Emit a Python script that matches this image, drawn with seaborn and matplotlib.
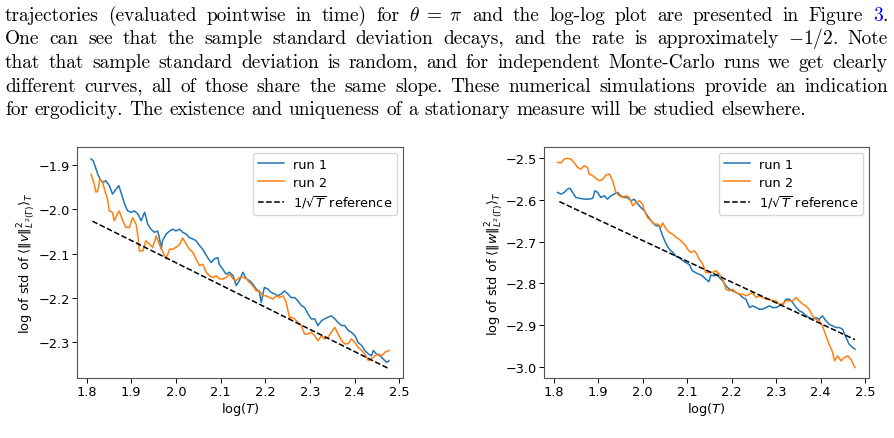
import numpy as np
import pandas as pd
import matplotlib
matplotlib.use("Agg")
import matplotlib.pyplot as plt
import matplotlib.transforms as mtransforms
import seaborn as sns

# ---------------- data ----------------
left_run1_x = [1.810, 1.815, 1.825, 1.830, 1.836, 1.843, 1.851, 1.858, 1.866, 1.872, 1.877, 1.885, 1.892, 1.900,
               1.907, 1.915, 1.922, 1.930, 1.937, 1.944, 1.952, 1.959, 1.963, 1.967, 1.970, 1.978, 1.986, 1.993,
               2.000, 2.008, 2.015, 2.023, 2.030, 2.038, 2.045, 2.053, 2.060, 2.064, 2.071, 2.079, 2.086, 2.094,
               2.097, 2.105, 2.112, 2.120, 2.128, 2.135, 2.142, 2.150, 2.158, 2.165, 2.172, 2.180, 2.187, 2.191,
               2.198, 2.206, 2.213, 2.221, 2.228, 2.236, 2.243, 2.251, 2.258, 2.266, 2.273, 2.281, 2.288, 2.296,
               2.303, 2.311, 2.318, 2.326, 2.333, 2.341, 2.348, 2.356, 2.363, 2.371, 2.378, 2.386, 2.393, 2.401,
               2.408, 2.416, 2.423, 2.431, 2.438, 2.442, 2.449, 2.457, 2.464, 2.472, 2.477]
left_run1_y = [-1.887, -1.891, -1.921, -1.932, -1.940, -1.936, -1.947, -1.966, -1.955, -1.947, -1.962, -1.988,
               -2.004, -2.007, -2.004, -2.011, -2.026, -2.007, -2.034, -2.045, -2.052, -2.049, -2.064, -2.090,
               -2.071, -2.056, -2.049, -2.045, -2.049, -2.045, -2.052, -2.056, -2.064, -2.067, -2.071, -2.082,
               -2.090, -2.097, -2.109, -2.120, -2.112, -2.109, -2.124, -2.135, -2.146, -2.142, -2.150, -2.172,
               -2.161, -2.142, -2.157, -2.161, -2.168, -2.180, -2.187, -2.210, -2.176, -2.180, -2.187, -2.191,
               -2.195, -2.191, -2.184, -2.191, -2.199, -2.199, -2.206, -2.217, -2.221, -2.236, -2.247, -2.247,
               -2.262, -2.251, -2.247, -2.243, -2.240, -2.247, -2.255, -2.262, -2.262, -2.273, -2.277, -2.285,
               -2.300, -2.307, -2.318, -2.326, -2.330, -2.318, -2.326, -2.330, -2.337, -2.345, -2.341]

left_run2_x = [1.810, 1.817, 1.821, 1.825, 1.830, 1.836, 1.842, 1.847, 1.851, 1.858, 1.862, 1.869, 1.873, 1.881,
               1.888, 1.896, 1.903, 1.911, 1.915, 1.918, 1.926, 1.933, 1.941, 1.948, 1.956, 1.963, 1.971, 1.978,
               1.986, 1.993, 2.000, 2.008, 2.015, 2.023, 2.030, 2.038, 2.045, 2.053, 2.060, 2.068, 2.075, 2.083,
               2.090, 2.098, 2.105, 2.112, 2.120, 2.128, 2.135, 2.142, 2.150, 2.158, 2.165, 2.172, 2.180, 2.187,
               2.195, 2.202, 2.210, 2.217, 2.225, 2.232, 2.240, 2.247, 2.255, 2.258, 2.266, 2.273, 2.281, 2.288,
               2.296, 2.303, 2.311, 2.318, 2.326, 2.333, 2.341, 2.348, 2.356, 2.363, 2.371, 2.378, 2.386, 2.393,
               2.401, 2.408, 2.416, 2.423, 2.431, 2.438, 2.446, 2.453, 2.461, 2.468, 2.477]
left_run2_y = [-1.921, -1.943, -1.962, -1.959, -1.932, -1.940, -1.962, -1.977, -2.004, -2.007, -2.026, -2.011,
               -2.004, -2.026, -2.041, -2.041, -2.019, -2.034, -2.060, -2.094, -2.094, -2.071, -2.079, -2.086,
               -2.060, -2.079, -2.097, -2.112, -2.090, -2.090, -2.086, -2.080, -2.065, -2.078, -2.090, -2.097,
               -2.112, -2.127, -2.124, -2.142, -2.150, -2.154, -2.150, -2.157, -2.157, -2.154, -2.146, -2.157,
               -2.161, -2.154, -2.153, -2.157, -2.165, -2.172, -2.184, -2.184, -2.195, -2.195, -2.199, -2.202,
               -2.195, -2.199, -2.195, -2.210, -2.247, -2.243, -2.247, -2.255, -2.262, -2.281, -2.281, -2.277,
               -2.285, -2.296, -2.285, -2.292, -2.288, -2.277, -2.266, -2.281, -2.296, -2.303, -2.303, -2.292,
               -2.300, -2.311, -2.318, -2.326, -2.341, -2.337, -2.330, -2.326, -2.330, -2.322, -2.318]

right_run1_x = [1.809, 1.817, 1.824, 1.831, 1.837, 1.843, 1.850, 1.858, 1.869, 1.880, 1.888, 1.893, 1.899, 1.906,
                1.914, 1.921, 1.929, 1.936, 1.944, 1.951, 1.959, 1.966, 1.974, 1.981, 1.989, 1.996, 2.004, 2.011,
                2.019, 2.026, 2.030, 2.037, 2.045, 2.053, 2.060, 2.068, 2.075, 2.082, 2.090, 2.097, 2.105, 2.112,
                2.120, 2.127, 2.134, 2.142, 2.149, 2.153, 2.160, 2.168, 2.172, 2.180, 2.187, 2.195, 2.202, 2.210,
                2.217, 2.225, 2.232, 2.240, 2.247, 2.255, 2.262, 2.270, 2.277, 2.285, 2.292, 2.300, 2.307, 2.315,
                2.322, 2.330, 2.337, 2.345, 2.352, 2.360, 2.367, 2.374, 2.382, 2.389, 2.397, 2.404, 2.412, 2.419,
                2.427, 2.434, 2.442, 2.449, 2.457, 2.464, 2.472, 2.477]
right_run1_y = [-2.582, -2.586, -2.582, -2.574, -2.572, -2.582, -2.594, -2.596, -2.598, -2.598, -2.596, -2.578,
                -2.582, -2.594, -2.590, -2.598, -2.590, -2.586, -2.582, -2.590, -2.594, -2.594, -2.602, -2.598,
                -2.610, -2.618, -2.626, -2.638, -2.650, -2.658, -2.662, -2.662, -2.686, -2.706, -2.718, -2.726,
                -2.735, -2.738, -2.745, -2.750, -2.755, -2.770, -2.775, -2.778, -2.782, -2.790, -2.796, -2.780,
                -2.782, -2.778, -2.786, -2.794, -2.806, -2.814, -2.818, -2.822, -2.826, -2.834, -2.838, -2.858,
                -2.854, -2.858, -2.862, -2.862, -2.858, -2.854, -2.858, -2.858, -2.854, -2.850, -2.838, -2.838,
                -2.846, -2.858, -2.866, -2.870, -2.878, -2.882, -2.886, -2.882, -2.886, -2.878, -2.890, -2.898,
                -2.902, -2.906, -2.906, -2.910, -2.930, -2.946, -2.954, -2.958]

right_run2_x = [1.809, 1.817, 1.824, 1.831, 1.839, 1.846, 1.854, 1.861, 1.869, 1.876, 1.880, 1.888, 1.895, 1.903,
                1.910, 1.918, 1.925, 1.933, 1.940, 1.948, 1.955, 1.963, 1.970, 1.978, 1.985, 1.993, 2.000, 2.004,
                2.011, 2.019, 2.026, 2.034, 2.041, 2.045, 2.053, 2.060, 2.068, 2.075, 2.082, 2.090, 2.097, 2.101,
                2.108, 2.116, 2.122, 2.127, 2.135, 2.142, 2.150, 2.157, 2.165, 2.172, 2.180, 2.187, 2.195, 2.202,
                2.210, 2.217, 2.225, 2.232, 2.240, 2.247, 2.255, 2.262, 2.270, 2.277, 2.285, 2.292, 2.300, 2.307,
                2.315, 2.322, 2.330, 2.337, 2.345, 2.352, 2.360, 2.367, 2.374, 2.382, 2.389, 2.397, 2.404, 2.412,
                2.419, 2.427, 2.431, 2.438, 2.446, 2.453, 2.461, 2.468, 2.477]
right_run2_y = [-2.510, -2.511, -2.502, -2.500, -2.502, -2.510, -2.522, -2.526, -2.518, -2.522, -2.538, -2.542,
                -2.548, -2.554, -2.551, -2.540, -2.538, -2.554, -2.582, -2.590, -2.594, -2.590, -2.594, -2.614,
                -2.606, -2.602, -2.610, -2.626, -2.642, -2.650, -2.658, -2.658, -2.666, -2.655, -2.670, -2.678,
                -2.682, -2.690, -2.694, -2.702, -2.710, -2.718, -2.726, -2.722, -2.730, -2.742, -2.754, -2.774,
                -2.774, -2.774, -2.770, -2.778, -2.790, -2.814, -2.818, -2.814, -2.822, -2.826, -2.826, -2.830,
                -2.826, -2.822, -2.834, -2.830, -2.834, -2.838, -2.838, -2.842, -2.842, -2.850, -2.850, -2.842,
                -2.842, -2.842, -2.834, -2.842, -2.850, -2.854, -2.862, -2.878, -2.886, -2.890, -2.902, -2.926,
                -2.946, -2.966, -2.986, -2.974, -2.986, -2.978, -2.974, -2.982, -3.002]

ref_x = [1.813, 2.477]
left_ref_y = [-2.027, -2.359]
right_ref_y = [-2.604, -2.935]

series_labels = ["run 1", "run 2", r"$1/\sqrt{T}$ reference"]
xlabel = r"log($T$)"
left_ylabel = r"log of std of $\langle \|v\|^2_{L^2(\Gamma)} \rangle_T$"
right_ylabel = r"log of std of $\langle \|w\|^2_{L^2(\Gamma)} \rangle_T$"

paragraph = [
    [("trajectories", "k"), ("(evaluated", "k"), ("pointwise", "k"), ("in", "k"), ("time)", "k"), ("for", "k"),
     (r"$\theta\;=\;\pi$", "k"), ("and", "k"), ("the", "k"), ("log-log", "k"), ("plot", "k"), ("are", "k"),
     ("presented", "k"), ("in", "k"), ("Figure", "k"), ("3", "#0000ff"), ("+.", "k")],
    [("One", "k"), ("can", "k"), ("see", "k"), ("that", "k"), ("the", "k"), ("sample", "k"), ("standard", "k"),
     ("deviation", "k"), ("decays,", "k"), ("and", "k"), ("the", "k"), ("rate", "k"), ("is", "k"),
     ("approximately", "k"), (r"$-1/2$.", "k"), ("Note", "k")],
    [("that", "k"), ("that", "k"), ("sample", "k"), ("standard", "k"), ("deviation", "k"), ("is", "k"),
     ("random,", "k"), ("and", "k"), ("for", "k"), ("independent", "k"), ("Monte-Carlo", "k"), ("runs", "k"),
     ("we", "k"), ("get", "k"), ("clearly", "k")],
    [("different", "k"), ("curves,", "k"), ("all", "k"), ("of", "k"), ("those", "k"), ("share", "k"),
     ("the", "k"), ("same", "k"), ("slope.", "k"), ("These", "k"), ("numerical", "k"), ("simulations", "k"),
     ("provide", "k"), ("an", "k"), ("indication", "k")],
    [("for", "k"), ("ergodicity.", "k"), ("The", "k"), ("existence", "k"), ("and", "k"), ("uniqueness", "k"),
     ("of", "k"), ("a", "k"), ("stationary", "k"), ("measure", "k"), ("will", "k"), ("be", "k"),
     ("studied", "k"), ("elsewhere.", "k")],
]

# ---------------- figure ----------------
W, H = 895, 439
fig = plt.figure(figsize=(W / 100, H / 100), dpi=100)
renderer = fig.canvas.get_renderer()
ident = mtransforms.IdentityTransform()

TXT_FS = 13.9
left_edge, right_edge = 5, 888
baselines = [20.6, 44.2, 67.9, 91.6, 115.3]


def word_width(s, fs):
    t = fig.text(0, 0, s, fontsize=fs, family="cmr10", math_fontfamily="cm", transform=ident)
    w = t.get_window_extent(renderer).width
    t.remove()
    return w


space_em = 0.333
def natural_width(line, fs):
    tot = 0
    for i, (s, c) in enumerate(line):
        glue = not s.startswith("+")
        tot += word_width(s.lstrip("+"), fs)
        if i > 0 and glue:
            tot += space_em * fs * 100 / 72
    return tot

nw = natural_width(paragraph[-1], TXT_FS)
TXT_FS = TXT_FS * (806 - left_edge) / nw

for li, line in enumerate(paragraph):
    words = [(s.lstrip("+"), c, not s.startswith("+")) for s, c in line]
    widths = [word_width(s, TXT_FS) for s, c, g in words]
    ngaps = sum(1 for i, (s, c, g) in enumerate(words) if i > 0 and g)
    if li < len(paragraph) - 1:
        gap = (right_edge - left_edge - sum(widths)) / ngaps
    else:
        gap = space_em * TXT_FS * 100 / 72
    x = left_edge
    for i, ((s, c, g), w) in enumerate(zip(words, widths)):
        if i > 0 and g:
            x += gap
        fig.text(x, H - baselines[li], s, fontsize=TXT_FS, family="cmr10", math_fontfamily="cm",
                 color=c, va="baseline", ha="left", transform=ident)
        x += w

TICK_FS = 9.3
ax1 = fig.add_axes([77 / W, 60 / H, 326 / W, 231 / H])
ax2 = fig.add_axes([544 / W, 60 / H, 325 / W, 231 / H])


def draw(ax, r1x, r1y, r2x, r2y, ry, ylabel, ylim, label_x):
    d1 = pd.DataFrame({"x": r1x, "y": r1y})
    d2 = pd.DataFrame({"x": r2x, "y": r2y})
    d3 = pd.DataFrame({"x": ref_x, "y": ry})
    sns.lineplot(data=d1, x="x", y="y", ax=ax, color="#1f77b4", lw=1.1, label=series_labels[0],
                 estimator=None, sort=False)
    sns.lineplot(data=d2, x="x", y="y", ax=ax, color="#ff7f0e", lw=1.1, label=series_labels[1],
                 estimator=None, sort=False)
    sns.lineplot(data=d3, x="x", y="y", ax=ax, color="k", lw=1.1, label=series_labels[2],
                 estimator=None, sort=False)
    ax.lines[-1].set_linestyle((0, (3.7, 1.6)))
    ax.set_xlim(1.7785, 2.5085)
    ax.set_ylim(*ylim)
    ax.set_xticks(np.round(np.arange(1.8, 2.51, 0.1), 1))
    ax.set_xlabel(xlabel, fontsize=TICK_FS, labelpad=1)
    ax.set_ylabel(ylabel, fontsize=TICK_FS)
    ax.yaxis.set_label_coords(label_x, 0.5)
    ax.tick_params(labelsize=TICK_FS, length=3.5, width=0.7, pad=1.8)
    for sp in ax.spines.values():
        sp.set_linewidth(0.8)
        sp.set_color("#555555")
    leg = ax.legend(loc="upper right", fontsize=TICK_FS, handlelength=2.0, borderaxespad=0.45,
                    labelspacing=0.35, handletextpad=0.7)
    for h in leg.get_lines():
        h.set_linewidth(1.1)
    leg.get_lines()[2].set_linestyle((0, (3.7, 1.6)))


draw(ax1, left_run1_x, left_run1_y, left_run2_x, left_run2_y, left_ref_y, left_ylabel,
     (-2.380, -1.860), (38 - 77) / 326)
draw(ax2, right_run1_x, right_run1_y, right_run2_x, right_run2_y, right_ref_y, right_ylabel,
     (-3.027, -2.473), (506 - 544) / 325)

fig.savefig("out.png", dpi=100)
